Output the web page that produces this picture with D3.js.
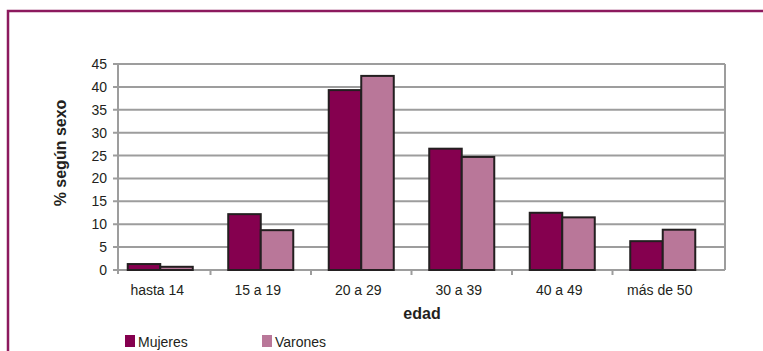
<!DOCTYPE html>
<html>
<head>
<meta charset="utf-8">
<script src="https://cdn.jsdelivr.net/npm/d3@7"></script>
<style>
  body { margin: 0; background: #fff; }
  text { font-family: "Liberation Sans Narrow", "Arial Narrow", "Liberation Sans", Arial, sans-serif; fill: #231f20; }
  .bold { font-family: "Liberation Sans", Arial, sans-serif; font-weight: bold; }
</style>
</head>
<body>
<div id="chart"></div>
<script>
var categories = ["hasta 14", "15 a 19", "20 a 29", "30 a 39", "40 a 49", "más de 50"];
var series = ["Mujeres", "Varones"];
var mujeres = [1.3, 12.2, 39.3, 26.5, 12.5, 6.3];
var varones = [0.7, 8.7, 42.4, 24.7, 11.5, 8.8];
var yTicks = [0, 5, 10, 15, 20, 25, 30, 35, 40, 45];
var colors = ["#85004f", "#b97799"];

function init() {
    var w = 763;
    var h = 351;

    var svg = d3.select("#chart")
                .append("svg")
                .attr("width", w)
                .attr("height", h);

    // outer frame (top + left only)
    svg.append("path")
       .attr("d", "M8," + h + " L8,11 L" + w + ",11")
       .attr("fill", "none")
       .attr("stroke", "#8c1a5e")
       .attr("stroke-width", 2.5);

    var left = 118, right = 725, top = 64, bottom = 270;

    var xScale = d3.scaleBand()
                   .domain(categories)
                   .range([110, 713])
                   .paddingInner(0.353)
                   .paddingOuter(0.1765);

    var x1 = d3.scaleBand()
               .domain(series)
               .range([0, xScale.bandwidth()]);

    var yScale = d3.scaleLinear()
                   .domain([0, 45])
                   .range([bottom, top]);

    // gridlines
    svg.selectAll("line.grid")
       .data(yTicks)
       .enter()
       .append("line")
       .attr("class", "grid")
       .attr("x1", left - 5)
       .attr("x2", right)
       .attr("y1", function(d) { return yScale(d); })
       .attr("y2", function(d) { return yScale(d); })
       .attr("stroke", "#9d9d9d")
       .attr("stroke-width", 2);

    // right border + y axis line
    svg.append("line")
       .attr("x1", right).attr("x2", right)
       .attr("y1", top).attr("y2", bottom)
       .attr("stroke", "#9d9d9d").attr("stroke-width", 2);
    svg.append("line")
       .attr("x1", left).attr("x2", left)
       .attr("y1", top).attr("y2", bottom + 4)
       .attr("stroke", "#9d9d9d").attr("stroke-width", 2);

    // x ticks at band boundaries
    var bounds = categories.slice(1).map(function(c) {
        return xScale(c) - xScale.step() * xScale.paddingInner() / 2;
    });
    svg.selectAll("line.xtick")
       .data(bounds)
       .enter()
       .append("line")
       .attr("class", "xtick")
       .attr("x1", function(d) { return d; })
       .attr("x2", function(d) { return d; })
       .attr("y1", bottom)
       .attr("y2", bottom + 5)
       .attr("stroke", "#9d9d9d")
       .attr("stroke-width", 2);

    // y tick labels
    svg.selectAll("text.ytick")
       .data(yTicks)
       .enter()
       .append("text")
       .attr("class", "ytick")
       .attr("x", 107)
       .attr("y", function(d) { return yScale(d) + 5; })
       .attr("text-anchor", "end")
       .style("font-size", "14px")
       .text(function(d) { return d; });

    // bars
    var groups = svg.selectAll("g.cat")
                    .data(categories)
                    .enter()
                    .append("g")
                    .attr("class", "cat")
                    .attr("transform", function(d) { return "translate(" + xScale(d) + ",0)"; });

    groups.selectAll("rect")
          .data(function(d, i) {
              return [{s: series[0], v: mujeres[i]}, {s: series[1], v: varones[i]}];
          })
          .enter()
          .append("rect")
          .attr("x", function(d) { return x1(d.s); })
          .attr("y", function(d) { return yScale(d.v); })
          .attr("width", x1.bandwidth())
          .attr("height", function(d) { return bottom - yScale(d.v); })
          .attr("fill", function(d, i) { return colors[i]; })
          .attr("stroke", "#231f20")
          .attr("stroke-width", 2);

    // x labels
    svg.selectAll("text.xlab")
       .data(categories)
       .enter()
       .append("text")
       .attr("class", "xlab")
       .attr("x", function(d) { return xScale(d) + xScale.bandwidth() / 2 - 3; })
       .attr("y", 295)
       .attr("text-anchor", "middle")
       .style("font-size", "14px")
       .text(function(d) { return d; });

    // axis titles
    svg.append("text")
       .attr("class", "bold")
       .attr("x", 422)
       .attr("y", 319)
       .attr("text-anchor", "middle")
       .style("font-size", "16px")
       .text("edad");

    svg.append("text")
       .attr("class", "bold")
       .attr("transform", "translate(66,153) rotate(-90)")
       .attr("text-anchor", "middle")
       .style("font-size", "16px")
       .text("% según sexo");

    // legend
    var legX = [125, 262];
    var leg = svg.selectAll("g.leg")
                 .data(series)
                 .enter()
                 .append("g")
                 .attr("class", "leg")
                 .attr("transform", function(d, i) { return "translate(" + legX[i] + ",335)"; });
    leg.append("rect")
       .attr("width", 10)
       .attr("height", 12)
       .attr("fill", function(d, i) { return colors[i]; });
    leg.append("text")
       .attr("x", 13)
       .attr("y", 12)
       .style("font-size", "14px")
       .text(function(d) { return d; });
}

window.onload = init;
</script>
</body>
</html>
